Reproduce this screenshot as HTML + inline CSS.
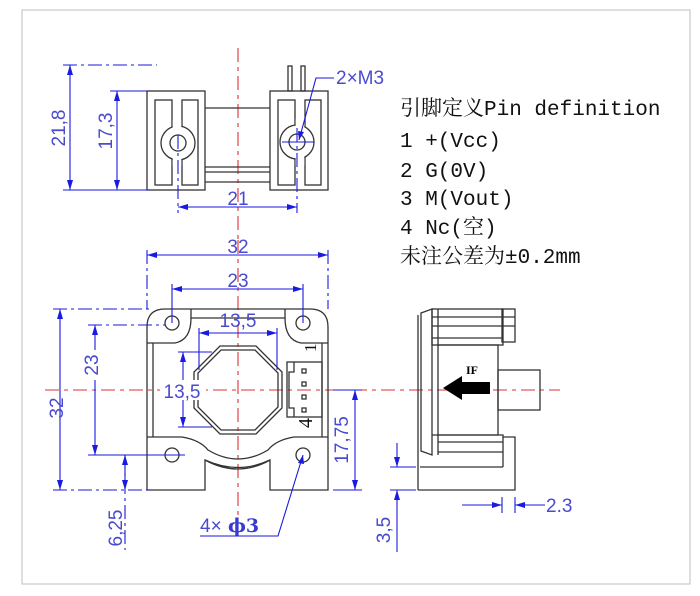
<!DOCTYPE html>
<html><head><meta charset="utf-8"><style>
html,body{margin:0;padding:0;background:#fff;}
svg{display:block;}
.k{fill:none;stroke:#333;stroke-width:1.3;}
.b{fill:none;stroke:#1a1ae0;stroke-width:1.1;}
.bd{fill:none;stroke:#1a1ae0;stroke-width:1.1;stroke-dasharray:14 4 3 4;}
.r{fill:none;stroke:#e03030;stroke-width:1.1;stroke-dasharray:14 5 4 5;}
.t{font-family:"Liberation Sans",sans-serif;font-size:19px;fill:#4a4ad0;}
.p{font-family:"Liberation Mono","Noto Serif CJK SC",monospace;font-size:21px;fill:#111;}
</style></head><body>
<svg width="700" height="596" viewBox="0 0 700 596" xmlns="http://www.w3.org/2000/svg">
<defs>
<marker id="a" viewBox="0 0 10 6" refX="10" refY="3" markerWidth="10" markerHeight="6" orient="auto-start-reverse" markerUnits="userSpaceOnUse"><path d="M0,0L10,3L0,6z" fill="#1a1ae0"/></marker>
</defs>
<rect x="22" y="10" width="668" height="574" fill="#fff" stroke="#c8c8c8" stroke-width="1.2"/>

<!-- TOP VIEW -->
<line class="r" x1="238" y1="48" x2="238" y2="240"/>
<rect class="k" x="147" y="91" width="58" height="99"/>
<rect class="k" x="270" y="91" width="58" height="99"/>
<line class="k" x1="205" y1="108" x2="270" y2="108"/>
<line class="k" x1="205" y1="167" x2="270" y2="167"/>
<line class="k" x1="205" y1="172" x2="270" y2="172"/>
<line class="k" x1="205" y1="182" x2="270" y2="182"/>
<rect class="k" x="288" y="66" width="4" height="25"/>
<rect class="k" x="301" y="66" width="4" height="25"/>
<g>
<rect class="k" x="155" y="100" width="17" height="85"/>
<rect class="k" x="182" y="100" width="16" height="85"/>
<circle cx="178" cy="143" r="17" fill="#fff" stroke="#333" stroke-width="1.3"/>
<rect x="172.7" y="120" width="8.6" height="46" fill="#fff"/>
<circle class="k" cx="178" cy="143" r="8"/>
<rect class="k" x="278" y="100" width="17" height="85"/>
<rect class="k" x="305" y="100" width="16" height="85"/>
<circle cx="297" cy="142" r="17" fill="#fff" stroke="#333" stroke-width="1.3"/>
<rect x="295.7" y="119" width="8.6" height="46" fill="#fff"/>
<circle class="k" cx="297" cy="142" r="8"/>
</g>
<line class="bd" x1="178" y1="135" x2="178" y2="213"/>
<line class="bd" x1="297" y1="128" x2="297" y2="213"/>
<line class="b" x1="282" y1="142" x2="314" y2="142"/>
<line class="bd" x1="63" y1="65" x2="157" y2="65"/>
<line class="b" x1="63" y1="190" x2="150" y2="190"/>
<line class="b" x1="70" y1="65" x2="70" y2="190" marker-start="url(#a)" marker-end="url(#a)"/>
<line class="b" x1="110" y1="91" x2="147" y2="91"/>
<line class="b" x1="117" y1="91" x2="117" y2="190" marker-start="url(#a)" marker-end="url(#a)"/>
<text class="t" transform="translate(65,128) rotate(-90)" text-anchor="middle">21,8</text>
<text class="t" transform="translate(112,131) rotate(-90)" text-anchor="middle">17,3</text>
<line class="b" x1="178" y1="207" x2="297" y2="207" marker-start="url(#a)" marker-end="url(#a)"/>
<text class="t" x="238" y="205" text-anchor="middle">21</text>
<polyline class="b" points="299,140 316,78 334,78"/>
<path d="M299,140 l-1,-9 l6,1z" fill="#1a1ae0"/>
<text class="t" x="336" y="84">2×M3</text>

<!-- PIN TEXT -->
<text class="p" x="400" y="115">引脚定义Pin definition</text>
<text class="p" x="400" y="147">1 +(Vcc)</text>
<text class="p" x="400" y="177">2 G(0V)</text>
<text class="p" x="400" y="205">3 M(Vout)</text>
<text class="p" x="400" y="234">4 Nc(空)</text>
<text class="p" x="400" y="263">未注公差为±0.2mm</text>

<!-- FRONT VIEW -->
<line class="r" x1="238" y1="240" x2="238" y2="520"/>
<line class="r" x1="45" y1="390" x2="560" y2="390"/>
<path class="k" d="M165,309 H310 Q328,309 328,327 V490 H270 V460 Q238,475 205,460 V490 H147 V327 Q147,309 165,309 Z"/>
<path class="k" d="M191,309 V318 H285 V309"/>
<path class="k" d="M147,343 H175 Q191,340 191,318"/>
<path class="k" d="M328,343 H301 Q285,340 285,318"/>
<line class="k" x1="153" y1="343" x2="153" y2="437"/>
<line class="k" x1="322" y1="343" x2="322" y2="437"/>
<path class="k" d="M147,437 H182 Q200,440 208,450 Q238,468 268,450 Q276,440 294,437 H328"/>
<path class="k" d="M205,460 Q238,478 270,460"/>
<polygon class="k" points="220,346 256,346 282,372 282,408 256,434 220,434 194,408 194,372"/>
<polygon class="k" points="221,350 255,350 278,373 278,407 255,430 221,430 198,407 198,373"/>
<circle class="k" cx="172" cy="323" r="7"/>
<circle class="k" cx="303" cy="323" r="7"/>
<circle class="k" cx="172" cy="455" r="7"/>
<circle class="k" cx="303" cy="455" r="7"/>
<rect class="k" x="287" y="362" width="35" height="55"/>
<polyline class="k" points="294,362 294,372 289,372 289,408 294,408 294,417"/>
<rect class="k" x="302" y="369" width="4" height="4"/>
<rect class="k" x="302" y="382" width="4" height="4"/>
<rect class="k" x="302" y="395" width="4" height="4"/>
<rect class="k" x="302" y="408" width="4" height="4"/>
<text transform="translate(316,352) rotate(-90)" font-family="Liberation Serif,serif" font-size="17" fill="#111">1</text>
<text transform="translate(312,428) rotate(-90)" font-family="Liberation Serif,serif" font-size="20" fill="#111">4</text>
<line class="bd" x1="147" y1="250" x2="147" y2="309"/>
<line class="bd" x1="328" y1="250" x2="328" y2="309"/>
<line class="b" x1="147" y1="255" x2="328" y2="255" marker-start="url(#a)" marker-end="url(#a)"/>
<text class="t" x="238" y="253" text-anchor="middle">32</text>
<line class="b" x1="172" y1="284" x2="172" y2="323"/>
<line class="b" x1="303" y1="284" x2="303" y2="323"/>
<line class="b" x1="172" y1="289" x2="303" y2="289" marker-start="url(#a)" marker-end="url(#a)"/>
<text class="t" x="238" y="287" text-anchor="middle">23</text>
<line class="b" x1="199" y1="328" x2="199" y2="370"/>
<line class="b" x1="277" y1="328" x2="277" y2="370"/>
<line class="b" x1="199" y1="333" x2="277" y2="333" marker-start="url(#a)" marker-end="url(#a)"/>
<text class="t" x="238" y="327" text-anchor="middle">13,5</text>
<line class="b" x1="178" y1="352" x2="212" y2="352"/>
<line class="b" x1="178" y1="427" x2="212" y2="427"/>
<line class="b" x1="183" y1="352" x2="183" y2="427" marker-start="url(#a)" marker-end="url(#a)"/>
<rect x="160" y="380" width="46" height="20" fill="#fff"/>
<text class="t" x="182" y="398" text-anchor="middle">13,5</text>
<line class="bd" x1="53" y1="309" x2="150" y2="309"/>
<line class="bd" x1="53" y1="490" x2="150" y2="490"/>
<line class="b" x1="60" y1="309" x2="60" y2="490" marker-start="url(#a)" marker-end="url(#a)"/>
<text class="t" transform="translate(63,408) rotate(-90)" text-anchor="middle">32</text>
<line class="bd" x1="88" y1="325" x2="165" y2="325"/>
<line class="b" x1="88" y1="455" x2="185" y2="455"/>
<line class="b" x1="95" y1="325" x2="95" y2="455" marker-start="url(#a)" marker-end="url(#a)"/>
<rect x="85" y="350" width="20" height="30" fill="#fff"/>
<text class="t" transform="translate(98,365) rotate(-90)" text-anchor="middle">23</text>
<line class="bd" x1="125" y1="455" x2="125" y2="550"/>
<line class="b" x1="125" y1="455" x2="125" y2="490" marker-start="url(#a)" marker-end="url(#a)"/>
<text class="t" transform="translate(122,528) rotate(-90)" text-anchor="middle">6,25</text>
<line class="b" x1="333" y1="390" x2="362" y2="390"/>
<line class="b" x1="333" y1="490" x2="362" y2="490"/>
<line class="b" x1="355" y1="390" x2="355" y2="490" marker-start="url(#a)" marker-end="url(#a)"/>
<text class="t" transform="translate(348,440) rotate(-90)" text-anchor="middle">17,75</text>
<text class="t" x="200" y="532">4×</text>
<text x="228" y="532" font-family="DejaVu Serif,serif" font-size="19" font-weight="bold" fill="#3a3ad0">ϕ3</text>
<polyline class="b" points="200,536 278,536 303,455"/>
<path d="M303,455 l-5,8 l6,1z" fill="#1a1ae0"/>

<!-- SIDE VIEW -->
<path class="k" d="M421,313 L432,309 V455 L421,451 Z"/>
<line class="k" x1="418" y1="315" x2="418" y2="490"/>
<rect class="k" x="432" y="309" width="71" height="36"/>
<rect class="k" x="502" y="309" width="13" height="33"/>
<line class="k" x1="432" y1="317" x2="515" y2="317"/>
<line class="k" x1="432" y1="326" x2="515" y2="326"/>
<line class="k" x1="432" y1="338" x2="503" y2="338"/>
<line class="k" x1="438" y1="309" x2="438" y2="455"/>
<path class="k" d="M438,345 H498 V435 H438"/>
<rect class="k" x="498" y="370" width="42" height="40"/>
<path class="k" d="M432,435 H503 V437 H515 V490 H418"/>
<line class="k" x1="438" y1="442" x2="503" y2="442"/>
<line class="k" x1="438" y1="452" x2="503" y2="452"/>
<line class="k" x1="420" y1="467" x2="503" y2="467"/>
<line class="k" x1="503" y1="437" x2="503" y2="467"/>
<rect x="460" y="382" width="30" height="12" fill="#000"/>
<polygon points="443,388 462,376 462,400" fill="#000"/>
<text x="466" y="374" font-family="Liberation Serif,serif" font-size="12" font-weight="bold" fill="#000">IF</text>
<line class="b" x1="390" y1="467" x2="416" y2="467"/>
<line class="b" x1="390" y1="490" x2="416" y2="490"/>
<line class="b" x1="397" y1="443" x2="397" y2="467" marker-end="url(#a)"/>
<line class="b" x1="397" y1="552" x2="397" y2="490" marker-end="url(#a)"/>
<text class="t" transform="translate(390,530) rotate(-90)" text-anchor="middle">3,5</text>
<line class="b" x1="502" y1="497" x2="502" y2="513"/>
<line class="b" x1="515" y1="497" x2="515" y2="513"/>
<line class="b" x1="462" y1="505" x2="502" y2="505" marker-end="url(#a)"/>
<line class="b" x1="545" y1="505" x2="515" y2="505" marker-end="url(#a)"/>
<text class="t" x="546" y="512">2.3</text>
</svg>
</body></html>
